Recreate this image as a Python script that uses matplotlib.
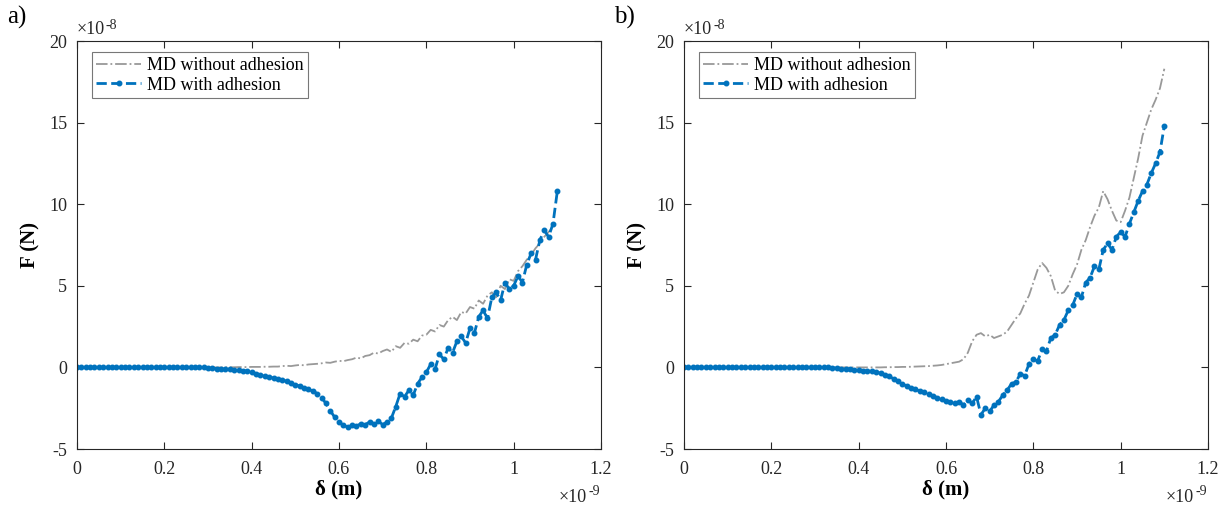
import numpy as np
import matplotlib
matplotlib.use('Agg')
import matplotlib.pyplot as plt
from matplotlib.transforms import offset_copy

plt.rcParams['font.family'] = ['Liberation Serif', 'DejaVu Serif']
plt.rcParams['axes.unicode_minus'] = False

# indentation depth, units of 1e-9 m (sampled every 0.01)
delta = np.round(np.arange(0, 1.105, 0.01), 2)

# forces, units of 1e-8 N
# panel a
a_no_adh = [0.0] * 31 + [
    0.0, 0.0, 0.0, 0.01, 0.01, 0.01, 0.02, 0.02, 0.02, 0.03,
    0.03, 0.03, 0.04, 0.04, 0.05, 0.05, 0.08, 0.1, 0.08, 0.12,
    0.15, 0.13, 0.18, 0.2, 0.22, 0.25, 0.3, 0.28, 0.35, 0.4,
    0.38, 0.45, 0.5, 0.6, 0.55, 0.7, 0.75, 0.9, 0.85, 1.0,
    1.1, 0.95, 1.3, 1.2, 1.5, 1.45, 1.7, 1.6, 1.95, 2.0,
    2.3, 2.2, 2.6, 2.5, 2.9, 3.1, 2.9, 3.4, 3.3, 3.7,
    3.6, 4.1, 3.9, 4.4, 4.6, 4.3, 5.0, 4.8, 5.4, 5.3,
    5.9, 6.2, 6.6, 6.9, 7.3, 7.6, 8.0, 8.3, 8.6, 8.8]
a_adh = [0.0] * 30 + [
    -0.05, -0.06, -0.07, -0.08, -0.1, -0.12, -0.14, -0.16, -0.2, -0.25, -0.3,
    -0.38, -0.45, -0.52, -0.6, -0.65, -0.7, -0.78, -0.85, -0.95, -1.05,
    -1.15, -1.25, -1.35, -1.45, -1.6, -1.85, -2.2, -2.65, -3.05, -3.35,
    -3.55, -3.65, -3.55, -3.6, -3.45, -3.5, -3.35, -3.45, -3.3, -3.5,
    -3.35, -3.1, -2.4, -1.6, -1.8, -1.4, -1.7, -1.0, -0.6, -0.3,
    0.2, -0.1, 0.8, 0.5, 1.2, 0.9, 1.6, 1.9, 1.5, 2.4,
    2.1, 3.1, 3.5, 3.0, 4.3, 4.6, 4.1, 5.2, 4.8, 5.0,
    5.6, 5.2, 6.3, 7.0, 6.6, 7.8, 8.4, 8.0, 8.8, 10.8]

# panel b
b_no_adh = [0.0] * 46 + [
    0.01, 0.01, 0.02, 0.02, 0.03, 0.03, 0.04, 0.05, 0.06, 0.07,
    0.08, 0.1, 0.12, 0.15, 0.2, 0.25, 0.3, 0.35, 0.5, 0.9,
    1.6, 2.0, 2.1, 1.9, 2.0, 1.8, 1.9, 2.0, 2.2, 2.6,
    3.0, 3.3, 3.9, 4.4, 5.2, 6.0, 6.4, 6.1, 5.6, 4.7,
    4.5, 4.6, 5.0, 5.7, 6.3, 7.2, 7.8, 8.6, 9.3, 9.8,
    10.8, 10.3, 9.6, 9.0, 8.9, 9.6, 10.4, 11.6, 12.8, 14.2,
    15.0, 15.8, 16.4, 17.1, 18.3]
b_adh = [0.0] * 34 + [
    -0.02, -0.05, -0.07, -0.1, -0.12, -0.15, -0.18, -0.2, -0.22, -0.25,
    -0.3, -0.35, -0.45, -0.55, -0.7, -0.85, -1.0, -1.15, -1.25, -1.35,
    -1.45, -1.5, -1.6, -1.75, -1.85, -1.95, -2.05, -2.1, -2.2, -2.1,
    -2.3, -2.0, -2.2, -1.8, -2.9, -2.5, -2.7, -2.3, -2.1, -1.7,
    -1.4, -1.0, -0.9, -0.4, -0.5, 0.2, 0.5, 0.4, 1.1, 1.0,
    1.8, 2.0, 2.6, 2.9, 3.5, 3.8, 4.5, 4.3, 5.2, 5.5,
    6.2, 6.0, 7.2, 7.6, 7.2, 8.0, 8.3, 8.0, 8.8, 9.5,
    10.2, 10.8, 11.2, 11.9, 12.5, 13.2, 14.8]

panels = [('a)', a_no_adh, a_adh), ('b)', b_no_adh, b_adh)]
grey = '#999999'
blue = '#0072BD'
edge = '#262626'

fig = plt.figure(figsize=(12.28, 5.07), dpi=100)
ax_lefts = [77 / 1228, 684 / 1228]

for i, (tag, no_adh, adh) in enumerate(panels):
    ax = fig.add_axes([ax_lefts[i], 58 / 507, 524 / 1228, 408 / 507])
    ax.plot(delta, no_adh, linestyle='-.', color=grey, linewidth=1.3,
            label='MD without adhesion')
    ax.plot(delta, adh, linestyle='--', marker='.', markersize=6.5,
            color=blue, linewidth=2.0, label='MD with adhesion')

    ax.set_xlim(0, 1.2)
    ax.set_ylim(-5, 20)
    ax.set_xticks([0, 0.2, 0.4, 0.6, 0.8, 1.0, 1.2])
    ax.set_xticklabels(['0', '0.2', '0.4', '0.6', '0.8', '1', '1.2'])
    ax.set_yticks([-5, 0, 5, 10, 15, 20])
    ax.tick_params(direction='in', top=True, right=True, length=5,
                   labelsize=13, colors=edge)
    ax.tick_params(axis='x', pad=9)
    ax.tick_params(axis='y', pad=7)
    for sp in ax.spines.values():
        sp.set_color(edge)
        sp.set_linewidth(0.8)

    ax.set_xlabel('δ (m)', fontsize=15, fontweight='bold', labelpad=1)
    ax.set_ylabel('F (N)', fontsize=15, fontweight='bold', labelpad=6)

    # exponent markers, MATLAB style (x10 with raised exponent)
    ax.text(0.0, 1.008, '×10', transform=ax.transAxes,
            ha='left', va='bottom', fontsize=13, color=edge)
    ax.text(0.0, 1.008, '-8',
            transform=offset_copy(ax.transAxes, fig=fig, x=29, y=6, units='dots'),
            ha='left', va='bottom', fontsize=10, color=edge)
    ax.text(1.0, -0.118, '×10', transform=offset_copy(ax.transAxes, fig=fig, x=-14, y=0, units='dots'),
            ha='right', va='center', fontsize=13, color=edge)
    ax.text(1.0, -0.118, '-9',
            transform=offset_copy(ax.transAxes, fig=fig, x=-1, y=6, units='dots'),
            ha='right', va='center', fontsize=10, color=edge)

    leg = ax.legend(loc='upper left', bbox_to_anchor=(0.028, 0.972), fontsize=13,
                    fancybox=False, handlelength=2.5, borderpad=0.25,
                    labelspacing=0.15, handletextpad=0.3, borderaxespad=0)
    leg.get_frame().set_edgecolor('#555555')
    leg.get_frame().set_linewidth(0.8)

    fig.text(ax_lefts[i] - 70 / 1228, 1 - 17 / 507, tag, fontsize=18,
             ha='left', va='center')

fig.savefig('out.png', dpi=100)
